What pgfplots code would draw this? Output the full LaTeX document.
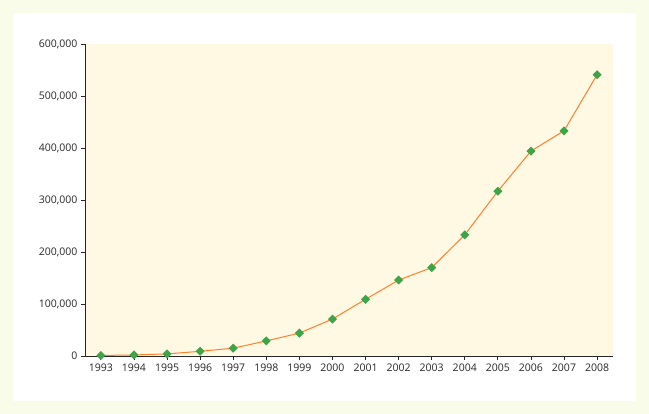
\documentclass[border=0pt]{standalone}
\usepackage{pgfplots}
\pgfplotsset{compat=1.18}
\usepackage{fontspec}
\setmainfont{Open Sans}
\definecolor{outerbg}{HTML}{F8FCE8}
\definecolor{plotbg}{HTML}{FFF8E3}
\definecolor{lineor}{HTML}{FF7F2A}
\definecolor{mkgreen}{HTML}{3DA548}
\begin{document}
\begin{tikzpicture}[x=1pt,y=1pt]
\fill[outerbg] (0,0) rectangle (649,414);
\fill[white] (13,13) rectangle (636,401);
\begin{axis}[
  at={(85pt,58pt)}, anchor=south west,
  width=528pt, height=312pt, scale only axis,
  xmin=1992.52, xmax=2008.48,
  ymin=0, ymax=600000,
  axis background/.style={fill=plotbg},
  axis x line*=bottom, axis y line*=left,
  axis line style={draw=black!85, line width=0.8pt},
  xtick={1993,...,2008},
  xticklabels={1993,1994,1995,1996,1997,1998,1999,2000,2001,2002,2003,2004,2005,2006,2007,2008},
  ytick={0,100000,200000,300000,400000,500000,600000},
  yticklabels={0,{100,000},{200,000},{300,000},{400,000},{500,000},{600,000}},
  scaled y ticks=false,
  tick align=outside,
  major tick length=4pt,
  tick style={black!85, line width=0.8pt},
  tick label style={font=\fontsize{10.5}{12}\selectfont, text=black!85},
  clip=false,
]
\addplot[color=lineor, line width=1pt, mark=square*, mark size=2.7pt,
  mark options={fill=mkgreen, draw=mkgreen, rotate=45}] coordinates {
(1993,1000) (1994,2000) (1995,4000) (1996,9000) (1997,15000)
(1998,29000) (1999,44000) (2000,71000) (2001,109000) (2002,146000)
(2003,170000) (2004,233000) (2005,317000) (2006,394000) (2007,433000)
(2008,541000)
};
\end{axis}
\end{tikzpicture}
\end{document}
